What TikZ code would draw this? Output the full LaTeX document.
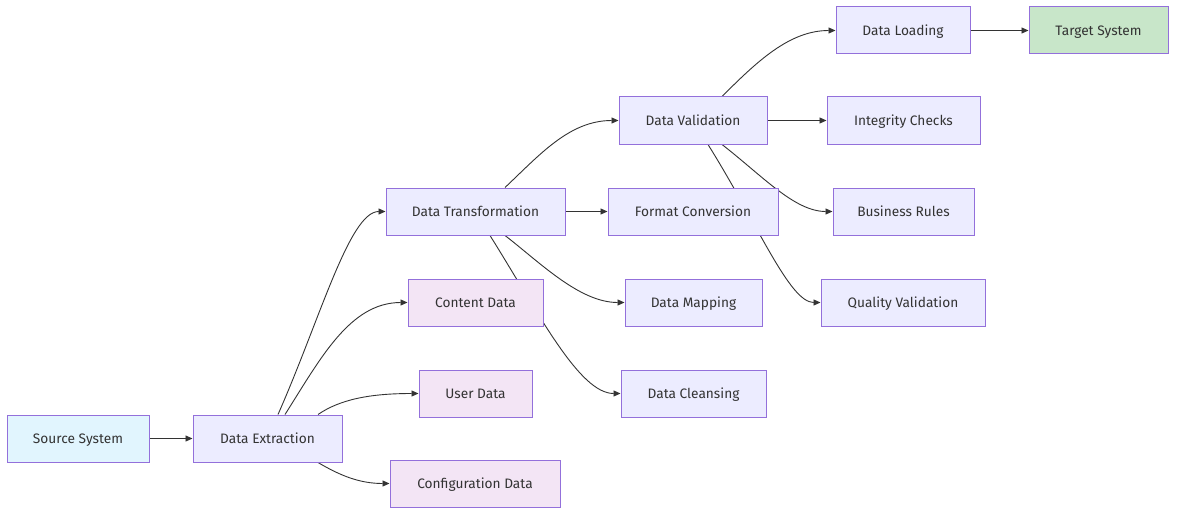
\documentclass[tikz,border=0pt]{standalone}
\usepackage{fontspec}
\setmainfont{Fira Sans}
\usetikzlibrary{arrows.meta,backgrounds}
\definecolor{nodefill}{HTML}{ECECFF}
\definecolor{nodestroke}{HTML}{9370DB}
\definecolor{srcfill}{HTML}{E1F5FE}
\definecolor{datafill}{HTML}{F3E5F5}
\definecolor{tgtfill}{HTML}{C8E6C9}
\definecolor{edge}{HTML}{333333}
\definecolor{txt}{HTML}{333333}
\tikzset{
  box/.style={draw=nodestroke, fill=nodefill, line width=1pt, inner sep=0pt,
    minimum height=47pt, text height=12.2pt, text depth=3pt, text=txt,
    font=\fontsize{13.7}{16}\selectfont},
  srcbox/.style={box, fill=srcfill},
  databox/.style={box, fill=datafill},
  tgtbox/.style={box, fill=tgtfill},
  conn/.style={draw=edge, line width=0.9pt, -{Triangle[length=7pt,width=6pt]}}
}
\begin{document}
\begin{tikzpicture}[x=1pt,y=-1pt]
\useasboundingbox (0,0) rectangle (1184,519);
\node[srcbox, minimum width=142pt] (src) at (78,438.5) {Source System};
\node[box, minimum width=149pt] (ext) at (267.5,438.5) {Data Extraction};
\node[box, minimum width=179pt] (tra) at (475.5,211.5) {Data Transformation};
\node[databox, minimum width=135pt] (con) at (475.5,302.5) {Content Data};
\node[databox, minimum width=113pt] (usr) at (475.5,393.5) {User Data};
\node[databox, minimum width=170pt] (cfg) at (475,483.5) {Configuration Data};
\node[box, minimum width=148pt] (val) at (693,120.5) {Data Validation};
\node[box, minimum width=170pt] (fmt) at (693,211.5) {Format Conversion};
\node[box, minimum width=137pt] (map) at (693.5,302.5) {Data Mapping};
\node[box, minimum width=145pt] (cln) at (693.5,393.5) {Data Cleansing};
\node[box, minimum width=134pt] (load) at (903,30.5) {Data Loading};
\node[box, minimum width=153pt] (int) at (903.5,120.5) {Integrity Checks};
\node[box, minimum width=141pt] (bus) at (903.5,211.5) {Business Rules};
\node[box, minimum width=164pt] (qual) at (903,302.5) {Quality Validation};
\node[tgtbox, minimum width=139pt] (tgt) at (1098.5,30.5) {Target System};
\begin{scope}[on background layer]
\draw[conn] (src.east) -- (ext.west);
\draw[conn] ([xshift=10.5pt]ext.north) .. controls +(42,-95) and +(-36,0) .. (tra.west);
\draw[conn] ([xshift=17.5pt]ext.north) .. controls +(35,-55) and +(-58,0) .. (con.west);
\draw[conn] ([xshift=50.5pt]ext.north) .. controls +(22,-15) and +(-49,0) .. (usr.west);
\draw[conn] ([xshift=50.5pt]ext.south) .. controls +(22,13) and +(-30,0) .. (cfg.west);
\draw[conn] ([xshift=29.5pt]tra.north) .. controls +(35,-33) and +(-49,0) .. (val.west);
\draw[conn] (tra.east) -- (fmt.west);
\draw[conn] ([xshift=29.5pt]tra.south) .. controls +(35,27) and +(-45,0) .. (map.west);
\draw[conn] ([xshift=14.5pt]tra.south) .. controls +(50,80) and +(-41,0) .. (cln.west);
\draw[conn] ([xshift=29pt]val.north) .. controls +(35,-35) and +(-46,0) .. (load.west);
\draw[conn] (val.east) -- (int.west);
\draw[conn] ([xshift=29pt]val.south) .. controls +(40,31) and +(-38,0) .. (bus.west);
\draw[conn] ([xshift=15pt]val.south) .. controls +(50,80) and +(-31,0) .. (qual.west);
\draw[conn] (load.east) -- (tgt.west);
\end{scope}
\end{tikzpicture}
\end{document}
